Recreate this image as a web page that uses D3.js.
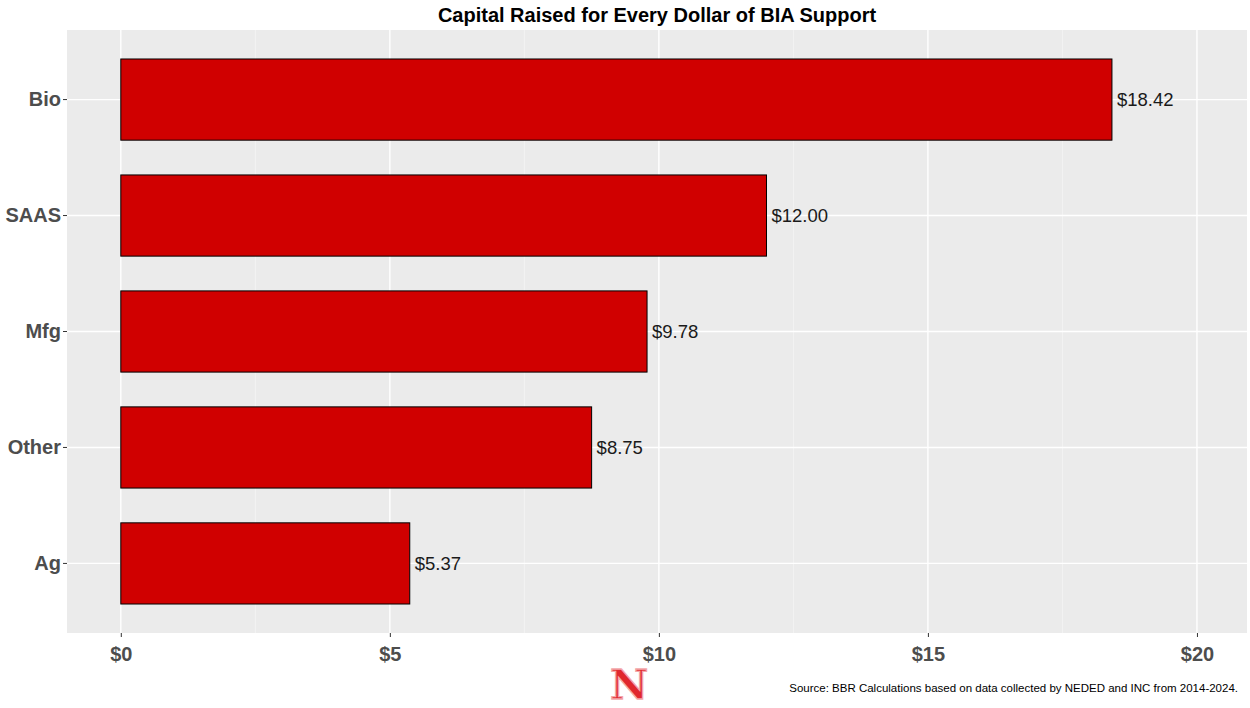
<!DOCTYPE html>
<html>
<head>
<meta charset="utf-8">
<script src="https://cdn.jsdelivr.net/npm/d3@7"></script>
<style>
  body { margin: 0; background: #fff; }
  text { font-family: "Liberation Sans", Arial, sans-serif; }
</style>
</head>
<body>
<svg id="chart" width="1250" height="708"></svg>
<script>
const categories = ["Bio", "SAAS", "Mfg", "Other", "Ag"];
const values = [18.42, 12.00, 9.78, 8.75, 5.37];
const xTicks = [0, 5, 10, 15, 20];
const xMinor = [2.5, 7.5, 12.5, 17.5];

const panelLeft = 67, panelRight = 1247, panelTop = 30, panelBottom = 633;

const svg = d3.select('#chart');

const x = d3.scaleLinear()
    .domain([-1.0, 20.93])
    .range([panelLeft, panelRight]);

const y = d3.scaleBand()
    .domain(categories)
    .range([panelTop, panelBottom])
    .paddingInner(0.3)
    .paddingOuter(0.25);

// panel background
svg.append('rect')
    .attr('x', panelLeft).attr('y', panelTop)
    .attr('width', panelRight - panelLeft).attr('height', panelBottom - panelTop)
    .attr('fill', '#ebebeb');

// minor gridlines
svg.append('g')
    .selectAll('line')
    .data(xMinor)
    .enter()
    .append('line')
    .attr('x1', d => x(d)).attr('x2', d => x(d))
    .attr('y1', panelTop).attr('y2', panelBottom)
    .attr('stroke', '#f5f5f5').attr('stroke-width', 0.8);

// major gridlines
svg.append('g')
    .selectAll('line')
    .data(xTicks)
    .enter()
    .append('line')
    .attr('x1', d => x(d)).attr('x2', d => x(d))
    .attr('y1', panelTop).attr('y2', panelBottom)
    .attr('stroke', '#fff').attr('stroke-width', 1.4);

svg.append('g')
    .selectAll('line')
    .data(categories)
    .enter()
    .append('line')
    .attr('x1', panelLeft).attr('x2', panelRight)
    .attr('y1', d => y(d) + y.bandwidth() / 2)
    .attr('y2', d => y(d) + y.bandwidth() / 2)
    .attr('stroke', '#fff').attr('stroke-width', 1.4);

// bars
svg.append('g')
    .selectAll('rect')
    .data(values)
    .enter()
    .append('rect')
    .attr('x', x(0))
    .attr('y', (d, i) => y(categories[i]))
    .attr('width', d => x(d) - x(0))
    .attr('height', y.bandwidth())
    .attr('fill', '#d00000')
    .attr('stroke', '#000')
    .attr('stroke-width', 1);

// value labels
svg.append('g')
    .selectAll('text')
    .data(values)
    .enter()
    .append('text')
    .attr('x', d => x(d) + 5)
    .attr('y', (d, i) => y(categories[i]) + y.bandwidth() / 2)
    .attr('dy', '0.35em')
    .attr('font-size', 18.5)
    .attr('fill', '#1a1a1a')
    .text(d => '$' + d.toFixed(2));

// y axis
let y_axis = d3.axisLeft(y).tickSize(4).tickPadding(2);
const gy = svg.append('g')
    .attr('transform', `translate(${panelLeft},0)`)
    .call(y_axis);
gy.select('.domain').remove();
gy.selectAll('line').attr('stroke', '#333');
gy.selectAll('text')
    .attr('font-size', 20)
    .attr('font-weight', 'bold')
    .attr('fill', '#4d4d4d')
    .style('font-family', '"Liberation Sans", Arial, sans-serif');

// x axis
let x_axis = d3.axisBottom(x).tickValues(xTicks).tickSize(4).tickPadding(6)
    .tickFormat(d => '$' + d);
const gx = svg.append('g')
    .attr('transform', `translate(0,${panelBottom})`)
    .call(x_axis);
gx.select('.domain').remove();
gx.selectAll('line').attr('stroke', '#333');
gx.selectAll('text')
    .attr('font-size', 20)
    .attr('font-weight', 'bold')
    .attr('fill', '#4d4d4d')
    .attr('dy', '0.9em')
    .style('font-family', '"Liberation Sans", Arial, sans-serif');

// title
svg.append('text')
    .attr('x', (panelLeft + panelRight) / 2)
    .attr('y', 22)
    .attr('text-anchor', 'middle')
    .attr('font-size', 20)
    .attr('font-weight', 'bold')
    .attr('fill', '#000')
    .text('Capital Raised for Every Dollar of BIA Support');

// logo
svg.append('text')
    .attr('transform', 'translate(629,699) scale(1.1,1.1)')
    .attr('text-anchor', 'middle')
    .attr('font-size', 38)
    .attr('font-weight', 'bold')
    .style('font-family', '"DejaVu Serif", serif')
    .attr('fill', '#e0282e')
    .attr('stroke', '#f3a7aa')
    .attr('stroke-width', 1.2)
    .text('N');

// source
svg.append('text')
    .attr('x', 1238)
    .attr('y', 692)
    .attr('text-anchor', 'end')
    .attr('font-size', 11.5)
    .attr('fill', '#000')
    .text('Source: BBR Calculations based on data collected by NEDED and INC from 2014-2024.');
</script>
</body>
</html>
